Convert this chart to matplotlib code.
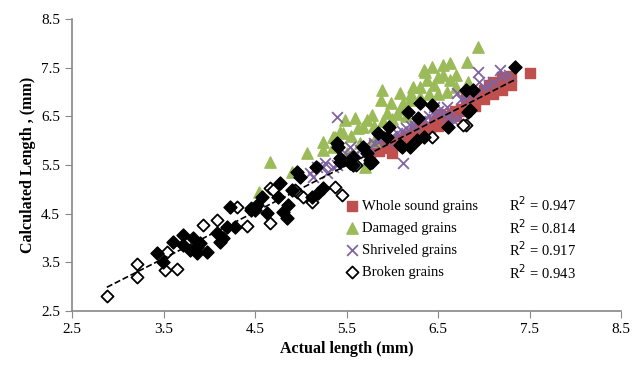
import numpy as np
import matplotlib.pyplot as plt

plt.rcParams['font.family'] = ['Liberation Serif', 'DejaVu Serif']

# Whole sound grains (actual, calculated)
whole_x = [5.75, 5.83, 5.85, 5.9, 5.94, 5.95, 6.0, 6.0, 6.05, 6.1, 6.15, 6.2, 6.25, 6.3, 6.3,
           6.35, 6.4, 6.41, 6.45, 6.5, 6.5, 6.55, 6.6, 6.65, 6.7, 6.75, 6.8, 6.8, 6.85, 6.9,
           6.95, 6.95, 7.0, 7.05, 7.05, 7.1, 7.1, 7.15, 7.2, 7.2, 7.25, 7.3, 7.3, 5.8, 7.5,
           6.12, 6.22, 6.58, 6.68, 6.88, 7.0, 7.22, 5.98]
whole_y = [5.72, 5.8, 5.78, 5.95, 5.87, 5.85, 5.92, 5.75, 6.02, 5.98, 6.1, 6.05, 6.2, 6.15, 6.35,
           6.28, 6.22, 6.22, 6.38, 6.3, 6.55, 6.45, 6.42, 6.55, 6.5, 6.65, 6.6, 6.85, 6.75, 6.72,
           6.88, 6.95, 6.85, 7.0, 7.15, 6.95, 7.2, 7.12, 7.05, 7.3, 7.2, 7.15, 7.32, 5.92, 7.4,
           6.0, 6.12, 6.5, 6.62, 6.8, 7.05, 7.25, 6.0]

# Damaged grains
dam_x = [4.54, 4.66, 4.9, 5.07, 5.24, 5.24, 5.35, 5.37, 5.46, 5.48, 5.59, 5.72, 5.78, 5.89,
         5.87, 5.98, 6.08, 6.12, 6.23, 6.36, 6.43, 6.5, 6.55, 6.63, 6.69, 6.82, 6.94, 6.45,
         6.38, 5.94, 5.68, 5.43, 5.35, 5.7, 6.19, 6.3, 6.3, 6.63, 6.83, 6.05, 6.15, 5.55,
         5.62, 5.8, 5.9, 6.0, 6.1, 6.4, 6.5, 6.6, 6.7, 5.5, 5.8, 6.35, 6.55, 6.2, 5.65]
dam_y = [4.95, 5.57, 5.35, 5.74, 5.97, 5.8, 6.08, 6.08, 6.15, 6.42, 6.46, 6.42, 6.52, 7.04,
         6.83, 6.77, 6.98, 6.77, 7.1, 7.41, 7.51, 7.3, 7.55, 7.59, 7.35, 7.61, 7.92, 7.14,
         7.24, 6.56, 6.28, 6.18, 5.87, 5.46, 6.83, 6.9, 7.1, 7.24, 7.2, 6.55, 6.5, 6.1,
         6.25, 6.3, 6.4, 6.45, 6.65, 6.95, 6.95, 7.0, 7.1, 5.75, 6.0, 7.45, 7.35, 6.95, 5.95]

# Shriveled grains
shr_x = [5.1, 5.13, 5.18, 5.24, 5.26, 5.29, 5.35, 5.4, 5.45, 5.5, 5.54, 5.6, 5.65, 5.7, 5.75,
         5.8, 5.85, 5.9, 5.95, 6.0, 6.05, 6.1, 6.15, 6.2, 6.25, 6.3, 6.35, 6.4, 6.45, 6.5,
         6.55, 6.6, 6.6, 6.66, 6.71, 6.72, 6.75, 6.8, 6.85, 6.9, 6.93, 7.0, 7.05, 7.1, 7.18,
         7.2, 7.27, 5.39, 6.12, 5.55, 5.85, 6.25, 6.45, 6.95]
shr_y = [5.33, 5.25, 5.46, 5.46, 5.54, 5.33, 5.45, 5.5, 5.6, 5.7, 5.87, 5.75, 5.8, 5.9, 5.85,
         5.95, 6.0, 6.05, 6.0, 6.1, 6.15, 6.2, 6.25, 6.3, 6.3, 6.4, 6.45, 6.5, 6.55, 6.6,
         6.62, 6.7, 6.48, 6.42, 6.98, 6.46, 6.85, 6.9, 6.95, 7.0, 7.41, 7.1, 7.15, 7.2, 7.45,
         7.3, 7.35, 6.48, 5.54, 5.65, 6.1, 6.45, 6.7, 7.2]

# Broken grains (open diamonds)
brk_x = [2.88, 3.21, 3.21, 3.52, 3.65, 3.54, 3.93, 4.08, 4.3, 4.41, 4.45, 4.66, 4.66, 4.96,
         5.12, 5.37, 5.02, 5.45, 4.69, 4.94, 5.6, 6.43, 6.8, 6.77]
brk_y = [2.81, 3.2, 3.46, 3.34, 3.36, 3.71, 4.27, 4.37, 4.64, 4.25, 4.61, 4.31, 5.03, 4.94,
         4.74, 5.05, 4.84, 4.88, 4.98, 4.98, 5.5, 6.08, 6.32, 6.32]

# Filled diamonds (no legend entry)
fil_x = [3.43, 3.49, 3.6, 3.71, 3.71, 3.82, 3.86, 3.97, 3.86, 3.79, 3.9, 4.08, 4.15, 4.12,
         4.19, 4.28, 4.23, 4.46, 4.52, 4.57, 4.5, 4.63, 4.77, 4.75, 4.81, 4.86, 4.85, 4.9,
         4.96, 4.99, 5.12, 5.19, 5.24, 5.16, 5.39, 5.57, 5.76, 5.68, 5.43, 5.41, 5.43, 5.57,
         5.72, 5.78, 5.84, 5.94, 5.96, 6.1, 6.19, 6.17, 6.28, 6.3, 6.43, 6.27, 6.34, 6.61,
         6.8, 6.88, 6.83, 7.34, 6.85, 5.54, 5.76, 6.08]
fil_y = [3.69, 3.5, 3.92, 4.06, 3.86, 4.0, 3.82, 3.71, 3.69, 3.75, 3.9, 4.1, 4.0, 3.92,
         4.23, 4.23, 4.64, 4.57, 4.68, 4.84, 4.57, 4.51, 5.13, 4.84, 4.53, 4.68, 4.41, 4.98,
         5.35, 5.25, 4.84, 4.92, 5.03, 5.46, 5.95, 5.66, 5.6, 5.87, 5.56, 5.87, 5.64, 5.5,
         5.74, 5.56, 6.15, 6.08, 6.28, 5.87, 5.87, 6.59, 6.46, 6.77, 6.73, 6.01, 6.08, 6.28,
         7.04, 7.04, 6.59, 7.51, 6.63, 5.54, 5.54, 5.91]

r2_labels = ['R$^2$ = 0.947', 'R$^2$ = 0.814', 'R$^2$ = 0.917', 'R$^2$ = 0.943']

fig, ax = plt.subplots(figsize=(6.32, 3.67), dpi=100)
fig.subplots_adjust(left=0.114, right=0.983, bottom=0.153, top=0.948)

ax.scatter(whole_x, whole_y, marker='s', s=55, color='#c0504d', label='Whole sound grains', zorder=2)
ax.scatter(dam_x, dam_y, marker='^', s=66, color='#9bbb59', label='Damaged grains', zorder=2)
ax.scatter(shr_x, shr_y, marker='x', s=60, color='#8064a2', linewidths=1.3, label='Shriveled grains', zorder=3)
ax.scatter(brk_x, brk_y, marker='D', s=38, facecolor='white', edgecolor='black', linewidths=1.3,
           label='Broken grains', zorder=4)
ax.scatter(fil_x, fil_y, marker='D', s=44, color='black', zorder=5)

# dashed trend line over all diamonds
all_x = np.array(brk_x + fil_x)
all_y = np.array(brk_y + fil_y)
k, b = np.polyfit(all_x, all_y, 1)
xs = np.array([all_x.min(), all_x.max()])
ax.plot(xs, k * xs + b, '--', color='black', lw=1.2, zorder=6)

ax.set_xlim(2.5, 8.5)
ax.set_ylim(2.5, 8.5)
ax.set_xticks(np.arange(2.5, 8.6, 1.0))
ax.set_yticks(np.arange(2.5, 8.6, 1.0))
ax.tick_params(direction='out', length=5, color='#888888', labelsize=11)
for s in ['top', 'right']:
    ax.spines[s].set_visible(False)
for s in ['left', 'bottom']:
    ax.spines[s].set_color('#888888')
    ax.spines[s].set_linewidth(1.2)

ax.set_xlabel('Actual length (mm)', fontsize=11.5, fontweight='bold')
ax.set_ylabel('Calculated Length , (mm)', fontsize=11.5, fontweight='bold')

leg = ax.legend(loc='upper left', bbox_to_anchor=(0.475, 0.415), frameon=False, fontsize=10.5,
                handletextpad=0.1, labelspacing=0.6, borderpad=0.2, handlelength=1.2)

for i, t in enumerate(r2_labels):
    ax.text(0.795, 0.363 - i * 0.077, t, transform=ax.transAxes, fontsize=10.5, va='center')

fig.savefig('out.png', dpi=100)
